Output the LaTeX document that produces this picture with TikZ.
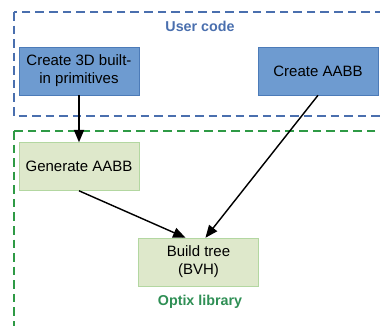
\documentclass[tikz,border=0pt]{standalone}
\usepackage{fontspec}
\setmainfont{Liberation Sans}
\usetikzlibrary{arrows}
\usetikzlibrary{calc}

\definecolor{userblue}{HTML}{4A6FAE}
\definecolor{boxblue}{HTML}{6E9BD0}
\definecolor{boxblueline}{HTML}{4C7BB8}
\definecolor{libgreen}{HTML}{2E9A45}
\definecolor{boxgreen}{HTML}{DEE8CB}
\definecolor{boxgreenline}{HTML}{B3D7A1}
\definecolor{labelgreen}{HTML}{2F8F55}

\begin{document}
\begin{tikzpicture}[x=0.7pt,y=-0.7pt,font=\fontsize{10.5}{12.5}\selectfont]

\useasboundingbox (0,0) rectangle (380,326);
\clip (0,0) rectangle (380,326);

% regions
\draw[draw=userblue, line width=1pt, dash pattern=on 6pt off 3.5pt] (14,12) rectangle (400,116);
\draw[draw=libgreen, line width=1pt, dash pattern=on 6pt off 3.5pt] (14,131) rectangle (400,360);

\node[align=center] (usercode) [style={text=userblue, font=\bfseries}] at (200,26) {User code};
\node[align=center] (optix) [style={text=labelgreen, font=\bfseries}] at (200,302) {Optix library};

\node[align=center] (primitives) [style={minimum height=33.6pt, minimum width=84pt, draw=boxblueline, fill=boxblue, text=black, inner sep=1pt}] at (79,71) {Create 3D built-\\in primitives};

\node[align=center] (createaabb) [style={minimum height=33.6pt, minimum width=84pt, draw=boxblueline, fill=boxblue, text=black}] at (318,71) {Create AABB};

\node[align=center] (generate) [style={minimum height=33.6pt, minimum width=84pt, draw=boxgreenline, fill=boxgreen, text=black}] at (79,166.5) {Generate AABB};

\node[align=center] (build) [style={minimum height=33.6pt, minimum width=84pt, draw=boxgreenline, fill=boxgreen, text=black}] at (198.5,262) {Build tree\\(BVH)};

\draw (primitives) edge[line width=1pt,-triangle 45] (generate);
\draw (generate.south) edge[line width=1pt,-triangle 45] ($(build.north)+(-13,0)$);
\draw (createaabb.south) edge[line width=1pt,-triangle 45] ($(build.north)+(7,0)$);

\end{tikzpicture}
\end{document}
